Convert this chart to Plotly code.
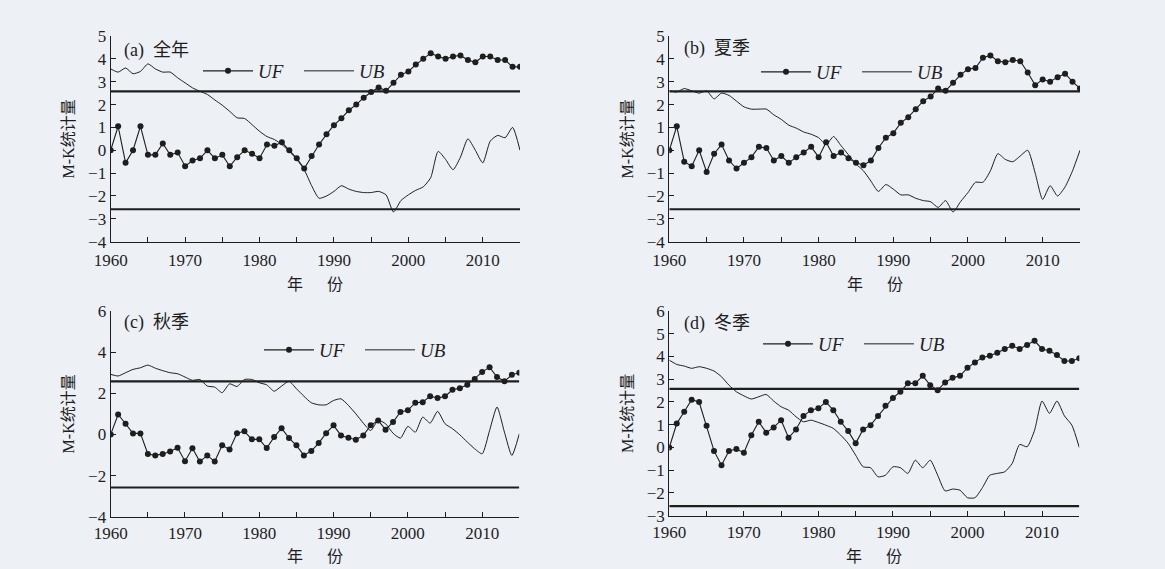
import plotly.graph_objects as go

years = list(range(1960, 2016))

uf_a = [0.0, 1.05, -0.55, 0.0, 1.05, -0.2, -0.2, 0.3, -0.2, -0.1,
        -0.7, -0.45, -0.35, 0.0, -0.35, -0.2, -0.7, -0.3, 0.0, -0.15,
        -0.35, 0.25, 0.2, 0.35, 0.0, -0.35, -0.8, -0.25, 0.25, 0.7,
        1.1, 1.4, 1.75, 2.0, 2.3, 2.55, 2.75, 2.6, 2.95, 3.3,
        3.45, 3.75, 4.0, 4.25, 4.1, 4.0, 4.1, 4.15, 3.95, 3.85,
        4.1, 4.1, 3.95, 3.95, 3.65, 3.65]
ub_a = [3.56, 3.42, 3.6, 3.35, 3.45, 3.78, 3.56, 3.42, 3.42, 3.17,
        2.95, 2.73, 2.58, 2.44, 2.2, 1.97, 1.7, 1.42, 1.39, 1.12,
        0.83, 0.6, 0.47, 0.25, -0.05, -0.4, -0.85, -1.55, -2.1, -2.0,
        -1.8, -1.55, -1.7, -1.8, -1.85, -1.85, -1.8, -1.95, -2.7, -2.2,
        -1.95, -1.75, -1.6, -1.2, -0.05, -0.4, -0.85, -0.3, 0.5, 0.0,
        -0.55, 0.4, 0.65, 0.55, 1.0, 0.0]

uf_b = [0.0, 1.05, -0.5, -0.7, 0.0, -0.95, -0.15, 0.25, -0.45, -0.8,
        -0.55, -0.3, 0.15, 0.1, -0.45, -0.25, -0.55, -0.3, -0.1, 0.15,
        -0.3, 0.35, -0.25, -0.1, -0.35, -0.55, -0.65, -0.45, 0.1, 0.55,
        0.75, 1.2, 1.45, 1.8, 2.15, 2.35, 2.7, 2.6, 2.95, 3.3,
        3.55, 3.6, 4.05, 4.15, 3.9, 3.85, 3.95, 3.9, 3.4, 2.85,
        3.1, 3.0, 3.2, 3.35, 3.0, 2.7]
ub_b = [2.6, 2.55, 2.7, 2.6, 2.5, 2.6, 2.25, 2.5, 2.4, 2.15,
        1.9, 1.8, 1.8, 1.8, 1.55, 1.35, 1.1, 0.97, 0.8, 0.7,
        0.55, 0.25, 0.6, 0.2, -0.2, -0.6, -0.9, -1.35, -1.8, -1.5,
        -1.7, -1.95, -1.95, -2.1, -2.2, -2.25, -2.5, -2.2, -2.7, -2.25,
        -1.85, -1.4, -1.4, -0.9, -0.15, -0.4, -0.5, -0.25, 0.0, -1.0,
        -2.15, -1.55, -2.0, -1.6, -0.9, 0.0]

uf_c = [0.0, 0.97, 0.52, 0.05, 0.05, -0.95, -1.02, -0.95, -0.83, -0.65,
        -1.3, -0.67, -1.32, -1.02, -1.32, -0.53, -0.73, 0.06, 0.15, -0.24,
        -0.24, -0.66, -0.13, 0.3, -0.18, -0.53, -1.02, -0.81, -0.42, 0.06,
        0.44, -0.05, -0.16, -0.26, -0.05, 0.44, 0.68, 0.23, 0.6, 1.09,
        1.17, 1.54, 1.57, 1.86, 1.77, 1.85, 2.17, 2.25, 2.41, 2.7,
        3.03, 3.27, 2.79, 2.58, 2.9, 3.0]
ub_c = [2.92, 2.84, 3.0, 3.16, 3.24, 3.37, 3.22, 3.1, 3.0, 2.95,
        2.79, 2.63, 2.67, 2.35, 2.3, 2.03, 2.46, 2.33, 2.67, 2.67,
        2.51, 2.41, 2.1, 2.35, 2.58, 2.22, 1.86, 1.54, 1.44, 1.44,
        1.65, 1.73, 1.41, 1.0, 0.55, 0.19, 0.68, 0.52, 0.06, -0.18,
        0.39, 0.11, 0.84, 0.55, 1.12, 0.52, 0.28, -0.02, -0.37, -0.7,
        -0.94, 0.19, 1.33, 0.11, -1.02, 0.03]

uf_d = [0.0, 1.05, 1.57, 2.1, 2.0, 0.95, -0.15, -0.78, -0.15, -0.07,
        -0.23, 0.54, 1.13, 0.65, 0.88, 1.2, 0.43, 0.79, 1.38, 1.64,
        1.72, 2.0, 1.64, 1.13, 0.72, 0.18, 0.79, 0.98, 1.38, 1.83,
        2.18, 2.45, 2.82, 2.82, 3.15, 2.74, 2.52, 2.86, 3.06, 3.15,
        3.5, 3.74, 3.96, 4.03, 4.16, 4.33, 4.47, 4.33, 4.5, 4.69,
        4.33, 4.25, 4.06, 3.8, 3.8, 3.92]
ub_d = [3.84, 3.65, 3.58, 3.48, 3.55, 3.48, 3.36, 3.11, 2.74, 2.45,
        2.27, 2.13, 2.23, 2.33, 2.04, 1.79, 1.64, 1.35, 1.13, 1.2,
        1.1, 0.98, 0.84, 0.54, 0.18, -0.34, -0.85, -0.89, -1.29, -1.22,
        -0.85, -0.89, -1.14, -0.56, -0.89, -0.56, -1.22, -1.91, -1.83, -1.88,
        -2.21, -2.21, -1.77, -1.22, -1.14, -1.07, -0.7, 0.13, 0.03, 0.76,
        2.04, 1.5, 2.04, 1.39, 0.98, 0.0]

crit = 2.58
panel_titles = ["(a)\u2002全年", "(b)\u2002夏季", "(c)\u2002秋季", "(d)\u2002冬季"]
y_ranges = [[-4, 5], [-4, 5], [-4, 6], [-3, 6]]
y_dticks = [1, 1, 2, 1]
x_title = "年\u3000\u2002份"
y_title = "M-K统计量"

W, H = 1165, 569
INK = "#1e1e1e"
BG = "#edf0f5"
SERIF = "Liberation Serif, Noto Sans CJK SC"

def px_x(v):
    return v / W

def px_y(v):
    return 1 - v / H

# panel geometry in pixels: (left, right, top, bottom)
geo = [(110.7, 520.0, 36.0, 241.7),
       (669.3, 1080.0, 36.0, 241.7),
       (110.7, 519.3, 311.0, 516.7),
       (669.3, 1079.3, 311.0, 515.7)]
legend_pos = [(198, 71), (756, 72), (259, 350), (758, 344)]
label_pos = [(122, 50), (682, 48), (122, 322), (682, 323)]
xtitle_y = [283, 283, 555, 555]
label_standoff = [3, 3, 1, 1]

fig = go.Figure()
series = [(uf_a, ub_a), (uf_b, ub_b), (uf_c, ub_c), (uf_d, ub_d)]
for i, (uf, ub) in enumerate(series):
    k = "" if i == 0 else str(i + 1)
    lg = "legend" + k
    fig.add_trace(go.Scatter(
        x=years, y=uf, mode="lines+markers", name="UF",
        line=dict(color=INK, width=1.1),
        marker=dict(color=INK, size=6),
        xaxis="x" + k, yaxis="y" + k, legend=lg))
    fig.add_trace(go.Scatter(
        x=years, y=ub, mode="lines", name="UB",
        line=dict(color=INK, width=1.0, shape="spline", smoothing=0.6),
        xaxis="x" + k, yaxis="y" + k, legend=lg))
    for c in (crit, -crit):
        fig.add_trace(go.Scatter(
            x=[years[0], years[-1]], y=[c, c], mode="lines",
            line=dict(color=INK, width=2.2), showlegend=False,
            hoverinfo="skip", xaxis="x" + k, yaxis="y" + k))

    l, r, t, b = geo[i]
    xa = dict(domain=[px_x(l), px_x(r)], range=[1960, 2015], automargin=False,
              anchor="y" + k, showline=True, linecolor=INK, linewidth=1.2,
              ticks="inside", ticklen=5, tickcolor=INK, tick0=1960, dtick=10,
              minor=dict(ticks="inside", ticklen=5, dtick=5, tick0=1960, tickcolor=INK),
              showgrid=False, zeroline=False, ticklabelstandoff=label_standoff[i],
              tickfont=dict(family=SERIF, size=17, color=INK))
    ya = dict(domain=[px_y(b), px_y(t)], range=y_ranges[i], automargin=False,
              anchor="x" + k, showline=True, linecolor=INK, linewidth=1.2,
              ticks="inside", ticklen=5, tickcolor=INK, dtick=y_dticks[i],
              showgrid=False, zeroline=False,
              tickfont=dict(family=SERIF, size=17, color=INK),
              title=dict(text=y_title, font=dict(family=SERIF, size=16, color=INK),
                         standoff=9))
    fig.layout["xaxis" + k] = xa
    fig.layout["yaxis" + k] = ya

    lx, ly = legend_pos[i]
    fig.layout[lg] = dict(orientation="h", x=px_x(lx), y=px_y(ly),
                          xanchor="left", yanchor="middle",
                          bgcolor="rgba(0,0,0,0)", itemwidth=50, entrywidth=36,
                          font=dict(family=SERIF, size=19, color=INK, style="italic"))

    ax, ay = label_pos[i]
    fig.add_annotation(text=panel_titles[i], xref="paper", yref="paper",
                       x=px_x(ax), y=px_y(ay), xanchor="left", yanchor="middle",
                       showarrow=False, font=dict(family=SERIF, size=18, color=INK))
    fig.add_annotation(text=x_title, xref="paper", yref="paper",
                       x=px_x((l + r) / 2), y=px_y(xtitle_y[i]),
                       xanchor="center", yanchor="middle", showarrow=False,
                       font=dict(family="Noto Sans CJK SC", size=16, color=INK))

fig.update_layout(width=W, height=H, margin=dict(l=0, r=0, t=0, b=0, autoexpand=False),
                  paper_bgcolor=BG, plot_bgcolor=BG, showlegend=True)

fig.write_html("out.html", config={"displayModeBar": False},
               post_script="document.body.style.margin='0';document.body.style.background='" + BG + "';")
